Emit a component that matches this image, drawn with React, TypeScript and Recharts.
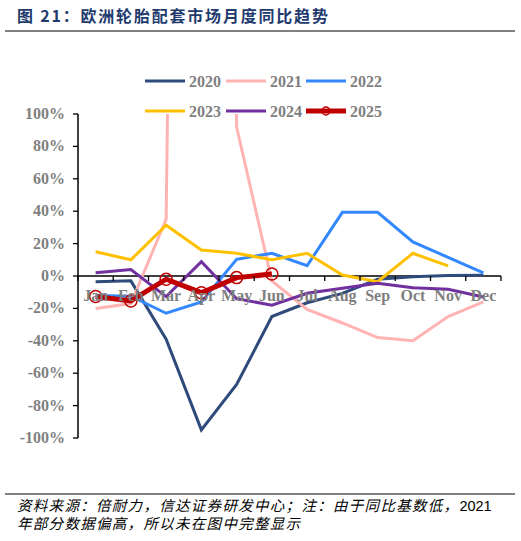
import React from "react";
import { LineChart, Line, XAxis, YAxis, ReferenceLine } from "recharts";

const months = ["Jan", "Feb", "Mar", "Apr", "May", "Jun", "Jul", "Aug", "Sep", "Oct", "Nov", "Dec"];
const y2020 = [-3.5, -3, -39, -95, -67, -25, -16.5, -10.7, -2, -0.4, 0.3, 0.5];
const y2021 = [-20, -17, 35, 1700, 92, -3, -20.6, -29, -38, -40, -25, -16];
const y2022 = [-12, -12.5, -23, -16, 10.3, 14, 6.4, 39.3, 39.3, 21, 11.5, 2];
const y2023: (number | null)[] = [15, 10, 31.3, 16, 14, 10, 14, 0.6, -3.5, 14, 6.2, null];
const y2024 = [2, 4, -12.7, 8.8, -14, -18, -10.7, -7.6, -4.5, -7.2, -8.2, -13];
const y2025: (number | null)[] = [-12.7, -15.4, -2, -10.3, -1, 1.2, null, null, null, null, null, null];
const yTicks = [-100, -80, -60, -40, -20, 0, 20, 40, 60, 80, 100];
const Y_MIN = -100;
const Y_MAX = 100;

const seriesKeys = ["2020", "2021", "2022", "2023", "2024", "2025"];
const seriesColors = ["#2F4B7C", "#FFB3B3", "#3388FF", "#FFC000", "#7030A0", "#C00000"];
const seriesWidths = [3, 3, 3, 3, 3, 5];
const seriesValues = [y2020, y2021, y2022, y2023, y2024, y2025];

const data = months.map((m, i) => {
  const row: Record<string, any> = { month: m };
  seriesKeys.forEach((k, j) => {
    row[k] = seriesValues[j][i];
  });
  return row;
});

const W = 521;
const H = 541;
const PLOT_LEFT = 78;
const PLOT_RIGHT = 501;
const PLOT_TOP = 114;
const PLOT_BOTTOM = 438;
const X_AXIS_H = 20;
const BAND = (PLOT_RIGHT - PLOT_LEFT) / months.length;
const ZERO_Y = PLOT_TOP + ((PLOT_BOTTOM - PLOT_TOP) * (Y_MAX - 0)) / (Y_MAX - Y_MIN);

const serif = "'Liberation Serif', 'Times New Roman', serif";
const labelGray = "#7F7F7F";

const XTick = (props: any) => {
  const { x, payload, index } = props;
  return (
    <g>
      <line x1={x + BAND / 2} x2={x + BAND / 2} y1={ZERO_Y} y2={ZERO_Y + 5} stroke="#000" strokeWidth={1.3} />
      {index === 0 && (
        <line x1={x - BAND / 2} x2={x - BAND / 2} y1={ZERO_Y} y2={ZERO_Y + 5} stroke="#000" strokeWidth={1.3} />
      )}
      <text
        x={x}
        y={ZERO_Y + 25}
        textAnchor="middle"
        fontFamily={serif}
        fontWeight="bold"
        fontSize={16}
        fill={labelGray}
      >
        {payload.value}
      </text>
    </g>
  );
};

const YTick = (props: any) => {
  const { x, y, payload } = props;
  return (
    <text
      x={x - 6}
      y={y}
      dy={5}
      textAnchor="end"
      fontFamily={serif}
      fontWeight="bold"
      fontSize={16}
      fill={labelGray}
    >
      {`${payload.value}%`}
    </text>
  );
};

const LegendBlock = () => {
  const colX = [145, 226, 306];
  const rowY = [81, 111];
  return (
    <svg width={W} height={130} style={{ position: "absolute", left: 0, top: 0 }}>
      {seriesKeys.map((k, i) => {
        const cx = colX[i % 3];
        const cy = rowY[Math.floor(i / 3)];
        return (
          <g key={k}>
            <line x1={cx} x2={cx + 40} y1={cy} y2={cy} stroke={seriesColors[i]} strokeWidth={seriesWidths[i]} />
            {k === "2025" && (
              <circle cx={cx + 20} cy={cy} r={4} fill="none" stroke={seriesColors[i]} strokeWidth={1.5} />
            )}
            <text
              x={cx + 44}
              y={cy + 6}
              fontFamily={serif}
              fontWeight="bold"
              fontSize={16}
              fill={labelGray}
            >
              {k}
            </text>
          </g>
        );
      })}
    </svg>
  );
};

const cjk = "'Noto Sans CJK SC', sans-serif";

export default function App() {
  return (
    <div style={{ position: "absolute", left: 0, top: 0, width: W, height: H, background: "#fff", overflow: "hidden" }}>
      <div
        style={{
          position: "absolute",
          left: 17,
          top: 5,
          fontFamily: cjk,
          fontWeight: 700,
          fontSize: 16,
          letterSpacing: 1.8,
          lineHeight: "20px",
          color: "#1F3B6E",
          whiteSpace: "nowrap",
        }}
      >
        图 21：欧洲轮胎配套市场月度同比趋势
      </div>
      <div style={{ position: "absolute", left: 5, top: 30, width: 510, height: 2, background: "#808080" }} />
      <LegendBlock />
      <div style={{ position: "absolute", left: 0, top: 0 }}>
        <LineChart
          width={W}
          height={H}
          data={data}
          margin={{ top: PLOT_TOP, right: W - PLOT_RIGHT, bottom: H - PLOT_BOTTOM - X_AXIS_H, left: 8 }}
        >
          <XAxis
            dataKey="month"
            height={X_AXIS_H}
            axisLine={false}
            tickLine={false}
            tick={<XTick />}
            interval={0}
            padding={{ left: BAND / 2, right: BAND / 2 }}
          />
          <YAxis
            width={PLOT_LEFT - 8}
            domain={[Y_MIN, Y_MAX]}
            ticks={yTicks}
            allowDataOverflow
            axisLine={{ stroke: "#000", strokeWidth: 1.5 }}
            tickLine={{ stroke: "#000", strokeWidth: 1.3 }}
            tickSize={5}
            tick={<YTick />}
            interval={0}
          />
          <ReferenceLine y={0} stroke="#000" strokeWidth={1.5} />
          {seriesKeys.map((k, i) => (
            <Line
              key={k}
              type="linear"
              dataKey={k}
              stroke={seriesColors[i]}
              strokeWidth={seriesWidths[i]}
              dot={
                k === "2025"
                  ? { r: 6, stroke: seriesColors[i], strokeWidth: 1.5, fill: "none" }
                  : false
              }
              activeDot={false}
              isAnimationActive={false}
              connectNulls={false}
            />
          ))}
        </LineChart>
      </div>
      <div style={{ position: "absolute", left: 5, top: 493, width: 510, height: 1.5, background: "#808080" }} />
      <div
        style={{
          position: "absolute",
          left: 17,
          top: 497,
          width: 500,
          fontFamily: cjk,
          fontSize: 14.5,
          letterSpacing: 1.3,
          lineHeight: "16.5px",
          color: "#000",
          whiteSpace: "nowrap",
        }}
      >
        <span style={{ fontStyle: "italic" }}>资料来源：倍耐力，信达证券研发中心；注：由于同比基数低，</span>
        <span style={{ fontFamily: "'Liberation Sans', Arial, sans-serif", letterSpacing: 0 }}>2021</span>
        <br />
        <span style={{ fontStyle: "italic" }}>年部分数据偏高，所以未在图中完整显示</span>
      </div>
    </div>
  );
}
